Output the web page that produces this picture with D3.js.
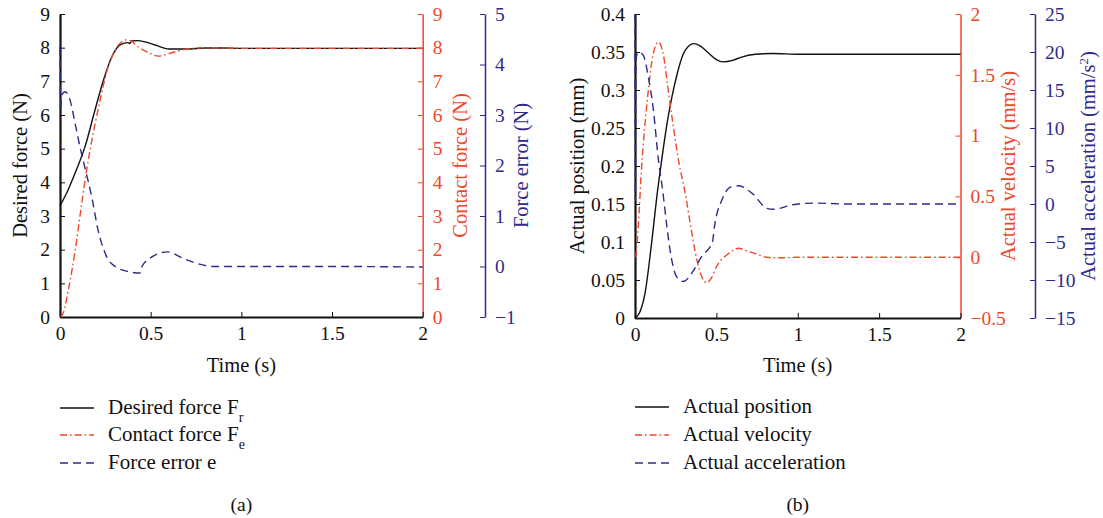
<!DOCTYPE html>
<html>
<head>
<meta charset="utf-8">
<script src="https://cdn.jsdelivr.net/npm/d3@7"></script>
<style>
  body { margin: 0; background: #fff; }
  svg { display: block; }
  text { font-family: "Liberation Serif", "DejaVu Serif", serif; }
</style>
</head>
<body>
<svg id="chart" width="1103" height="518"></svg>
<script>
// ---------- (a) force tracking ----------
const desiredT = [0, 0.01, 0.04, 0.07, 0.1, 0.138, 0.193, 0.24, 0.286, 0.331, 0.375, 0.385, 0.395, 0.43, 0.47, 0.525, 0.6, 0.7, 0.8, 0.9, 1.0, 1.5, 2.0];
const desiredF = [3.3, 3.4, 3.72, 4.1, 4.5, 5.06, 6.15, 7.04, 7.73, 8.08, 8.15, 8.12, 8.2, 8.21, 8.17, 8.08, 7.96, 7.96, 7.99, 7.99, 7.98, 7.98, 7.98];

const contactT = [0.005, 0.02, 0.046, 0.083, 0.12, 0.147, 0.166, 0.221, 0.258, 0.295, 0.331, 0.363, 0.39, 0.433, 0.488, 0.543, 0.617, 0.69, 0.8, 0.9, 1.0, 2.0];
const contactF = [0, 0.15, 0.8, 1.95, 3.38, 4.37, 4.96, 6.44, 7.29, 7.83, 8.13, 8.23, 8.2, 8.02, 7.85, 7.75, 7.85, 7.95, 8.0, 7.99, 7.98, 7.98];

const errorT = [0, 0.003, 0.01, 0.028, 0.055, 0.083, 0.11, 0.138, 0.175, 0.21, 0.258, 0.304, 0.377, 0.442, 0.452, 0.507, 0.59, 0.68, 0.755, 0.847, 1.0, 1.5, 2.0];
const errorE = [4.35, 3.1, 3.4, 3.46, 3.3, 2.84, 2.37, 1.95, 1.38, 0.72, 0.19, 0.0, -0.1, -0.13, 0.0, 0.19, 0.29, 0.16, 0.06, 0.0, 0.0, 0.0, -0.01];

// ---------- (b) motion states ----------
const positionT = [0, 0.03, 0.062, 0.1, 0.14, 0.164, 0.2, 0.226, 0.26, 0.296, 0.33, 0.363, 0.4, 0.45, 0.5, 0.54, 0.6, 0.65, 0.74, 0.85, 1.0, 1.5, 2.0];
const positionX = [0, 0.008, 0.033, 0.095, 0.17, 0.208, 0.26, 0.29, 0.322, 0.347, 0.358, 0.361, 0.358, 0.349, 0.34, 0.337, 0.339, 0.343, 0.347, 0.348, 0.347, 0.347, 0.347];

const velocityT = [0.005, 0.02, 0.041, 0.051, 0.082, 0.11, 0.144, 0.175, 0.204, 0.235, 0.267, 0.308, 0.349, 0.38, 0.41, 0.44, 0.47, 0.5, 0.575, 0.636, 0.69, 0.74, 0.81, 0.9, 1.0, 1.5, 2.0];
const velocityV = [0, 0.25, 0.75, 0.93, 1.375, 1.66, 1.77, 1.66, 1.375, 1.08, 0.8, 0.53, 0.2, -0.02, -0.16, -0.21, -0.17, -0.08, 0.03, 0.073, 0.05, 0.03, 0.0, -0.005, 0.0, 0.0, 0.0];

const accelT = [0, 0.002, 0.006, 0.02, 0.05, 0.082, 0.113, 0.144, 0.165, 0.18, 0.195, 0.226, 0.256, 0.297, 0.349, 0.41, 0.476, 0.488, 0.533, 0.595, 0.636, 0.72, 0.81, 0.85, 0.97, 1.1, 1.3, 1.5, 2.0];
const accelA = [25, 0.5, 19, 20, 19.6, 16.7, 12.4, 5.8, 2.6, 0.0, -2.8, -7.4, -9.6, -10.2, -9.1, -6.9, -5.0, -3.0, 0.5, 2.3, 2.4, 1.4, -0.57, -0.7, -0.1, 0.12, 0.0, 0.0, 0.0];

// ---------- tick values ----------
const timeTicks = [0, 0.5, 1, 1.5, 2];
const forceTicks = [0, 1, 2, 3, 4, 5, 6, 7, 8, 9];
const errorTicks = [-1, 0, 1, 2, 3, 4, 5];
const positionTicks = [0, 0.05, 0.1, 0.15, 0.2, 0.25, 0.3, 0.35, 0.4];
const velocityTicks = [-0.5, 0, 0.5, 1, 1.5, 2];
const accelTicks = [-15, -10, -5, 0, 5, 10, 15, 20, 25];

const BLACK = "#111";
const RED = "#f0462a";
const BLUE = "#2e2b8c";
const DASH_RED = "7,3,1.6,3";
const DASH_BLUE = "8,5";

const svg = d3.select("#chart");
const fmt = d => (d < 0 ? "\u2212" : "") + String(Math.abs(d));
const zip = (ts, vs) => ts.map((t, i) => [t, vs[i]]);

function drawPanel(p) {
  const g = svg.append("g");
  const x = d3.scaleLinear().domain([0, 2]).range([p.x0, p.x1]);
  const yL = d3.scaleLinear().domain(p.leftDomain).range([p.yBot, p.yTop]);
  const yR = d3.scaleLinear().domain(p.redDomain).range([p.yBot, p.yTop]);
  const yB = d3.scaleLinear().domain(p.blueDomain).range([p.yBot, p.yTop]);

  const styleAxis = (sel, color, width) => {
    sel.attr("font-family", null).attr("font-size", null);
    sel.select(".domain").attr("stroke", color).attr("stroke-width", width);
    sel.selectAll(".tick line").attr("stroke", color).attr("stroke-width", 1);
    sel.selectAll(".tick text").attr("fill", color)
      .style("font-family", '"Liberation Serif", serif').style("font-size", "19.5px");
  };

  // blue (third) axis
  g.append("g").attr("transform", `translate(${p.blueX},0)`)
    .call(d3.axisRight(yB).tickValues(p.blueTicks).tickFormat(fmt).tickSize(-5).tickSizeOuter(0).tickPadding(10))
    .call(s => styleAxis(s, BLUE, 1.5));
  // red (second) axis
  g.append("g").attr("transform", `translate(${p.x1},0)`)
    .call(d3.axisRight(yR).tickValues(p.redTicks).tickFormat(fmt).tickSize(-5).tickSizeOuter(0).tickPadding(10))
    .call(s => styleAxis(s, RED, 1.5));
  // left axis
  g.append("g").attr("transform", `translate(${p.x0},0)`)
    .call(d3.axisLeft(yL).tickValues(p.leftTicks).tickFormat(fmt).tickSize(-5).tickSizeOuter(0).tickPadding(10))
    .call(s => styleAxis(s, BLACK, 2.2));
  // time axis
  g.append("g").attr("transform", `translate(0,${p.yBot})`)
    .call(d3.axisBottom(x).tickValues(timeTicks).tickFormat(fmt).tickSize(-5).tickSizeOuter(0).tickPadding(9))
    .call(s => styleAxis(s, BLACK, 2.2));

  // series
  const mk = y => d3.line().x(d => x(d[0])).y(d => y(d[1])).curve(d3.curveMonotoneX);
  p.series.forEach(s => {
    const y = s.axis === "left" ? yL : s.axis === "red" ? yR : yB;
    g.append("path").attr("d", mk(y)(zip(s.t, s.v)))
      .attr("fill", "none").attr("stroke", s.color).attr("stroke-width", 1.4)
      .attr("stroke-dasharray", s.dash || null);
  });

  // axis titles
  const title = (tx, ty, rot, color, parts) => {
    const t = g.append("text").attr("transform", `translate(${tx},${ty}) rotate(${rot})`)
      .attr("text-anchor", "middle").attr("fill", color).style("font-size", "20.5px");
    parts.forEach(pt => {
      const ts = t.append("tspan").text(pt.s);
      if (pt.sup) ts.attr("baseline-shift", "super").style("font-size", "13px");
    });
  };
  title((p.x0 + p.x1) / 2, 372, 0, BLACK, [{ s: "Time (s)" }]);
  const mid = (p.yTop + p.yBot) / 2;
  title(p.leftTitleX, mid, -90, BLACK, [{ s: p.leftTitle }]);
  title(p.redTitleX, mid, -90, RED, [{ s: p.redTitle }]);
  title(p.blueTitleX, mid, -90, BLUE, p.blueTitle);

  // legend
  p.series.forEach((s, i) => {
    const ly = p.legendY[i];
    g.append("line").attr("x1", p.legendX).attr("x2", p.legendX + 34).attr("y1", ly).attr("y2", ly)
      .attr("stroke", s.color).attr("stroke-width", 1.4).attr("stroke-dasharray", s.dash || null);
    const t = g.append("text").attr("x", p.legendX + 48).attr("y", ly + 6)
      .attr("fill", "#111").style("font-size", "21px");
    t.append("tspan").text(s.label);
    if (s.sub) t.append("tspan").text(s.sub).attr("baseline-shift", "sub").style("font-size", "14px");
  });

  // caption
  g.append("text").attr("x", (p.x0 + p.x1) / 2).attr("y", 511).attr("text-anchor", "middle")
    .attr("fill", "#111").style("font-size", "19.5px").text(p.caption);
}

drawPanel({
  x0: 60, x1: 422.7, yTop: 14, yBot: 317, blueX: 485,
  leftDomain: [0, 9], redDomain: [0, 9], blueDomain: [-1, 5],
  leftTicks: forceTicks, redTicks: forceTicks, blueTicks: errorTicks,
  leftTitle: "Desired force (N)", leftTitleX: 27,
  redTitle: "Contact force (N)", redTitleX: 467,
  blueTitle: [{ s: "Force error (N)" }], blueTitleX: 528,
  legendX: 60, legendY: [408, 435, 463], caption: "(a)",
  series: [
    { t: desiredT, v: desiredF, axis: "left", color: BLACK, label: "Desired force F", sub: "r" },
    { t: contactT, v: contactF, axis: "red", color: RED, dash: DASH_RED, label: "Contact force F", sub: "e" },
    { t: errorT, v: errorE, axis: "blue", color: BLUE, dash: DASH_BLUE, label: "Force error e" }
  ]
});

drawPanel({
  x0: 635, x1: 960.5, yTop: 14, yBot: 318, blueX: 1035,
  leftDomain: [0, 0.4], redDomain: [-0.5, 2], blueDomain: [-15, 25],
  leftTicks: positionTicks, redTicks: velocityTicks, blueTicks: accelTicks,
  leftTitle: "Actual position (mm)", leftTitleX: 584,
  redTitle: "Actual velocity (mm/s)", redTitleX: 1015,
  blueTitle: [{ s: "Actual acceleration (mm/s" }, { s: "2", sup: true }, { s: ")" }], blueTitleX: 1095,
  legendX: 635, legendY: [407, 435, 463], caption: "(b)",
  series: [
    { t: positionT, v: positionX, axis: "left", color: BLACK, label: "Actual position" },
    { t: velocityT, v: velocityV, axis: "red", color: RED, dash: DASH_RED, label: "Actual velocity" },
    { t: accelT, v: accelA, axis: "blue", color: BLUE, dash: DASH_BLUE, label: "Actual acceleration" }
  ]
});
</script>
</body>
</html>
